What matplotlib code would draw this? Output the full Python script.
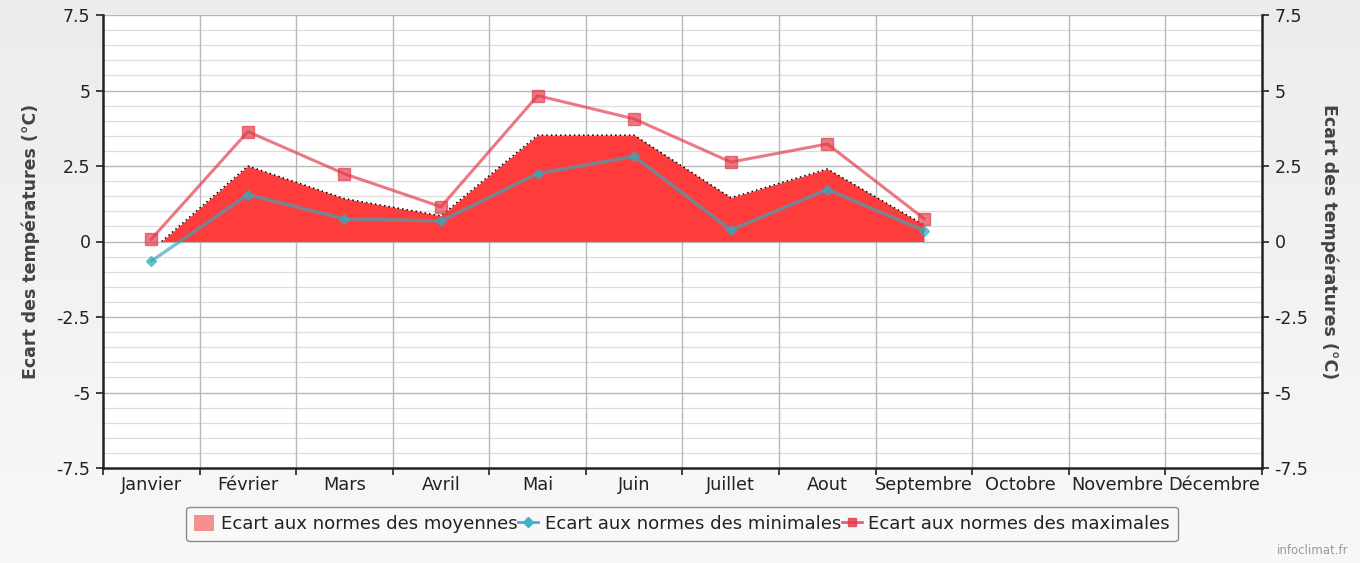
import matplotlib
matplotlib.use("Agg")
import matplotlib.pyplot as plt
import numpy as np
from matplotlib.patches import Rectangle
from matplotlib.lines import Line2D
from matplotlib.patches import Patch

months = ["Janvier", "Février", "Mars", "Avril", "Mai", "Juin", "Juillet",
          "Aout", "Septembre", "Octobre", "Novembre", "Décembre"]
moyennes = [-0.30, 2.50, 1.42, 0.85, 3.52, 3.52, 1.45, 2.40, 0.55]
minimales = [-0.65, 1.55, 0.75, 0.68, 2.25, 2.82, 0.38, 1.72, 0.36]
maximales = [0.08, 3.64, 2.24, 1.15, 4.83, 4.06, 2.63, 3.23, 0.76]
yticks = [-7.5, -5, -2.5, 0, 2.5, 5, 7.5]
ylabel = "Ecart des températures (°C)"
labels = ["Ecart aux normes des moyennes", "Ecart aux normes des minimales",
          "Ecart aux normes des maximales"]

plt.rcParams['font.family'] = ['DejaVu Sans']

fig = plt.figure(figsize=(13.6, 5.63), dpi=100, facecolor="#f1f1f1")
# subtle vertical gradient background
grad = np.linspace(0, 1, 256).reshape(-1, 1)
bg = fig.add_axes([0, 0, 1, 1], zorder=-10)
bg.imshow(grad, aspect="auto", cmap=matplotlib.colors.LinearSegmentedColormap.from_list(
    "g", ["#ececec", "#f8f8f8"]), extent=[0, 1, 0, 1])
bg.set_axis_off()

ax = fig.add_axes([103/1360, 1-468/563, (1262-103)/1360, (468-15)/563])
ax.set_facecolor("white")

x = np.arange(len(moyennes))
mean = np.array(moyennes)

ax.set_xlim(-0.5, len(months) - 0.5)
ax.set_ylim(-7.5, 7.5)
ax.set_yticks(yticks)
ax.set_yticklabels([("%g" % v) for v in yticks])
ax.set_yticks(np.arange(-7.5, 7.51, 0.5), minor=True)
ax.set_xticks(np.arange(-0.5, len(months), 1.0))
ax.set_xticklabels([])
ax.set_xticks(np.arange(len(months)), minor=True)
ax.set_xticklabels(months, minor=True)
for yv in np.arange(-7.0, 7.51, 0.5):
    major = abs(yv / 2.5 - round(yv / 2.5)) < 1e-6
    ax.axhline(yv, color="#b8b8b8" if major else "#dcdcdc", lw=1.0 if major else 0.9, zorder=0.5)
for xv in np.arange(0.5, len(months) - 0.5, 1.0):
    ax.axvline(xv, color="#b8b8b8", lw=1.0, zorder=0.6)

ax.tick_params(axis="x", which="major", direction="out", length=5, width=1.2, color="#222222")
ax.tick_params(axis="x", which="minor", length=0, labelsize=12.8, labelcolor="#222222", pad=6)
ax.tick_params(axis="y", which="major", direction="out", length=5, width=1.2, color="#222222",
               labelsize=12.5, labelcolor="#222222", pad=4)
ax.tick_params(axis="y", which="minor", length=0)
ax.spines["top"].set_visible(False)
ax.spines["right"].set_visible(False)
ax.spines["left"].set_linewidth(1.8)
ax.spines["left"].set_color("#222222")
ax.spines["bottom"].set_linewidth(1.8)
ax.spines["bottom"].set_color("#222222")

# area of means (positive part)
ax.fill_between(x, 0, mean, where=mean >= 0, interpolate=True, color="#ff3c3c",
                lw=0, zorder=2)
edge, = ax.plot(x, mean, color="black", lw=1.1, ls=(0, (1, 2)), zorder=2.5)
clip = Rectangle((-0.5, 0), len(months), 7.5, transform=ax.transData, visible=False)
ax.add_patch(clip)
edge.set_clip_path(clip)

# minimales
ax.plot(x, minimales, color="#35a9bd", alpha=0.68, lw=2.4, marker="D", ms=5.5,
        zorder=3)
# maximales
ax.plot(x, maximales, color="#e23a48", alpha=0.68, lw=2.2, marker="s", ms=8,
        zorder=4)

ax.set_ylabel(ylabel, fontsize=12.5, fontweight="bold", color="#444444", labelpad=12)

ax2 = ax.twinx()
ax2.set_ylim(-7.5, 7.5)
ax2.set_yticks(yticks)
ax2.set_yticklabels([("%g" % v) for v in yticks])
ax2.tick_params(axis="y", direction="out", length=5, width=1.2, color="#222222",
                labelsize=12.5, labelcolor="#222222", pad=4)
for s in ["top", "left", "bottom"]:
    ax2.spines[s].set_visible(False)
ax2.spines["right"].set_linewidth(1.8)
ax2.spines["right"].set_color("#222222")
ax2.set_ylabel(ylabel, fontsize=12.5, fontweight="bold", color="#444444",
               rotation=270, labelpad=22)

handles = [
    Patch(facecolor="#f59090", edgecolor="none"),
    Line2D([], [], color="#3fb2c6", lw=2, marker="D", ms=5),
    Line2D([], [], color="#e23a48", alpha=0.8, lw=2, marker="s", ms=6),
]
leg = fig.legend(handles, labels, loc="center", bbox_to_anchor=(682/1360, 1-524/563),
                 ncol=3, fontsize=13.1, frameon=True, fancybox=True,
                 facecolor="#f8f8f8", edgecolor="#8a8a8a", handlelength=1.1,
                 handleheight=1.0, handletextpad=0.35, columnspacing=0.05,
                 borderpad=0.45, framealpha=1.0)
leg.get_frame().set_linewidth(1.0)
for t in leg.get_texts():
    t.set_color("#222222")

fig.text(1348/1360, 1-551/563, "infoclimat.fr", ha="right", va="center",
         fontsize=8.5, color="#999999")

fig.savefig("out.png", dpi=100)
